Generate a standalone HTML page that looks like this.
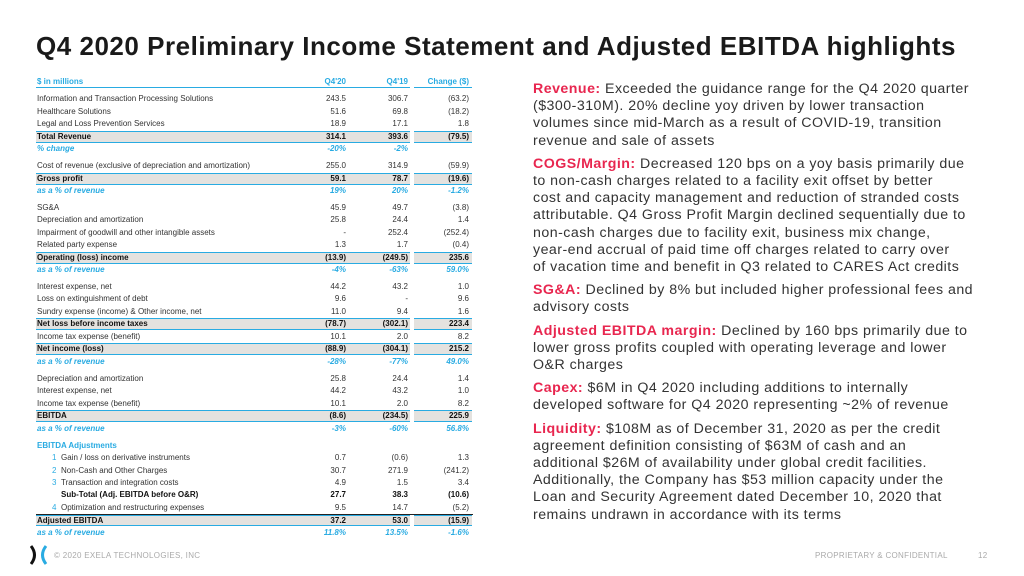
<!DOCTYPE html>
<html><head><meta charset="utf-8"><style>
*{margin:0;padding:0;box-sizing:border-box}
body{width:1024px;height:576px;background:#fff;position:relative;overflow:hidden;font-family:"Liberation Sans",sans-serif;color:#222}
h1{position:absolute;left:36px;top:31px;font-size:26px;font-weight:bold;color:#1a1a1a;letter-spacing:0.52px;white-space:nowrap}
.r{position:absolute;left:36px;width:437px;height:12.4px;font-size:8px;line-height:12.4px;color:#333}
.r span{position:absolute;white-space:nowrap;z-index:2}
.l{left:1px}
.a{left:250px;width:60px;text-align:right}
.b{left:312px;width:60px;text-align:right}
.c{left:375px;width:58px;text-align:right}
.s::before{content:"";position:absolute;left:0;width:374px;top:0;bottom:0;background:#e4e2df;border-top:1.5px solid #29abe2;border-bottom:1.5px solid #29abe2;z-index:1}
.s::after{content:"";position:absolute;left:378px;width:58px;top:0;bottom:0;background:#e4e2df;border-top:1.5px solid #29abe2;border-bottom:1.5px solid #29abe2;z-index:1}
.s{font-weight:bold;color:#111}
.p{color:#29abe2;font-style:italic;font-weight:bold}
.h{color:#29abe2;font-weight:bold}
.h::before{content:"";position:absolute;left:0;width:374px;bottom:0;border-bottom:1.5px solid #29abe2}
.h::after{content:"";position:absolute;left:378px;width:58px;bottom:0;border-bottom:1.5px solid #29abe2}
.n{color:#29abe2;left:16px!important}
.txt{position:absolute;left:533px;top:81px;font-size:14.2px;line-height:17.2px;color:#333;white-space:nowrap;letter-spacing:0.47px}
.txt p{margin-bottom:6px}
.txt b{color:#e8264f}
.foot{position:absolute;top:551px;font-size:8px;color:#aaa;letter-spacing:0.3px}
</style></head><body>
<h1>Q4 2020 Preliminary Income Statement and Adjusted EBITDA highlights</h1>

<div class="r h" style="top:76px"><span class="l">$ in millions</span><span class="a">Q4'20</span><span class="b">Q4'19</span><span class="c">Change ($)</span></div>
<div class="r" style="top:93px"><span class="l">Information and Transaction Processing Solutions</span><span class="a">243.5</span><span class="b">306.7</span><span class="c">(63.2)</span></div>
<div class="r" style="top:105.5px"><span class="l">Healthcare Solutions</span><span class="a">51.6</span><span class="b">69.8</span><span class="c">(18.2)</span></div>
<div class="r" style="top:118px"><span class="l">Legal and Loss Prevention Services</span><span class="a">18.9</span><span class="b">17.1</span><span class="c">1.8</span></div>
<div class="r s" style="top:130.5px"><span class="l">Total Revenue</span><span class="a">314.1</span><span class="b">393.6</span><span class="c">(79.5)</span></div>
<div class="r p" style="top:143px"><span class="l">% change</span><span class="a">-20%</span><span class="b">-2%</span></div>
<div class="r" style="top:160px"><span class="l">Cost of revenue (exclusive of depreciation and amortization)</span><span class="a">255.0</span><span class="b">314.9</span><span class="c">(59.9)</span></div>
<div class="r s" style="top:172.5px"><span class="l">Gross profit</span><span class="a">59.1</span><span class="b">78.7</span><span class="c">(19.6)</span></div>
<div class="r p" style="top:185px"><span class="l">as a % of revenue</span><span class="a">19%</span><span class="b">20%</span><span class="c">-1.2%</span></div>
<div class="r" style="top:202px"><span class="l">SG&amp;A</span><span class="a">45.9</span><span class="b">49.7</span><span class="c">(3.8)</span></div>
<div class="r" style="top:214px"><span class="l">Depreciation and amortization</span><span class="a">25.8</span><span class="b">24.4</span><span class="c">1.4</span></div>
<div class="r" style="top:226.5px"><span class="l">Impairment of goodwill and other intangible assets</span><span class="a">-</span><span class="b">252.4</span><span class="c">(252.4)</span></div>
<div class="r" style="top:239px"><span class="l">Related party expense</span><span class="a">1.3</span><span class="b">1.7</span><span class="c">(0.4)</span></div>
<div class="r s" style="top:251.5px"><span class="l">Operating (loss) income</span><span class="a">(13.9)</span><span class="b">(249.5)</span><span class="c">235.6</span></div>
<div class="r p" style="top:264px"><span class="l">as a % of revenue</span><span class="a">-4%</span><span class="b">-63%</span><span class="c">59.0%</span></div>
<div class="r" style="top:281px"><span class="l">Interest expense, net</span><span class="a">44.2</span><span class="b">43.2</span><span class="c">1.0</span></div>
<div class="r" style="top:293px"><span class="l">Loss on extinguishment of debt</span><span class="a">9.6</span><span class="b">-</span><span class="c">9.6</span></div>
<div class="r" style="top:305.5px"><span class="l">Sundry expense (income) &amp; Other income, net</span><span class="a">11.0</span><span class="b">9.4</span><span class="c">1.6</span></div>
<div class="r s" style="top:318px"><span class="l">Net loss before income taxes</span><span class="a">(78.7)</span><span class="b">(302.1)</span><span class="c">223.4</span></div>
<div class="r" style="top:330.5px"><span class="l">Income tax expense (benefit)</span><span class="a">10.1</span><span class="b">2.0</span><span class="c">8.2</span></div>
<div class="r s" style="top:343px"><span class="l">Net income (loss)</span><span class="a">(88.9)</span><span class="b">(304.1)</span><span class="c">215.2</span></div>
<div class="r p" style="top:355.5px"><span class="l">as a % of revenue</span><span class="a">-28%</span><span class="b">-77%</span><span class="c">49.0%</span></div>
<div class="r" style="top:373px"><span class="l">Depreciation and amortization</span><span class="a">25.8</span><span class="b">24.4</span><span class="c">1.4</span></div>
<div class="r" style="top:385px"><span class="l">Interest expense, net</span><span class="a">44.2</span><span class="b">43.2</span><span class="c">1.0</span></div>
<div class="r" style="top:397.5px"><span class="l">Income tax expense (benefit)</span><span class="a">10.1</span><span class="b">2.0</span><span class="c">8.2</span></div>
<div class="r s" style="top:410px"><span class="l">EBITDA</span><span class="a">(8.6)</span><span class="b">(234.5)</span><span class="c">225.9</span></div>
<div class="r p" style="top:422.5px"><span class="l">as a % of revenue</span><span class="a">-3%</span><span class="b">-60%</span><span class="c">56.8%</span></div>
<div class="r" style="top:440px;color:#29abe2;font-weight:bold"><span class="l">EBITDA Adjustments</span></div>
<div class="r" style="top:452px"><span class="n">1</span><span class="l" style="left:25px">Gain / loss on derivative instruments</span><span class="a">0.7</span><span class="b">(0.6)</span><span class="c">1.3</span></div>
<div class="r" style="top:464.5px"><span class="n">2</span><span class="l" style="left:25px">Non-Cash and Other Charges</span><span class="a">30.7</span><span class="b">271.9</span><span class="c">(241.2)</span></div>
<div class="r" style="top:477px"><span class="n">3</span><span class="l" style="left:25px">Transaction and integration costs</span><span class="a">4.9</span><span class="b">1.5</span><span class="c">3.4</span></div>
<div class="r" style="top:489px;font-weight:bold;color:#111"><span class="l" style="left:25px">Sub-Total (Adj. EBITDA before O&amp;R)</span><span class="a">27.7</span><span class="b">38.3</span><span class="c">(10.6)</span></div>
<div class="r" style="top:501.5px"><span class="n">4</span><span class="l" style="left:25px">Optimization and restructuring expenses</span><span class="a">9.5</span><span class="b">14.7</span><span class="c">(5.2)</span></div>
<div class="r s" style="top:514px;border-top:1.5px solid #222"><span class="l">Adjusted EBITDA</span><span class="a">37.2</span><span class="b">53.0</span><span class="c">(15.9)</span></div>
<div class="r p" style="top:527px"><span class="l">as a % of revenue</span><span class="a">11.8%</span><span class="b">13.5%</span><span class="c">-1.6%</span></div>

<div class="txt">
<p><b>Revenue:</b> Exceeded the guidance range for the Q4 2020 quarter<br>($300-310M). 20% decline yoy driven by lower transaction<br>volumes since mid-March as a result of COVID-19, transition<br>revenue and sale of assets</p>
<p><b>COGS/Margin:</b> Decreased 120 bps on a yoy basis primarily due<br>to non-cash charges related to a facility exit offset by better<br>cost and capacity management and reduction of stranded costs<br>attributable. Q4 Gross Profit Margin declined sequentially due to<br>non-cash charges due to facility exit, business mix change,<br>year-end accrual of paid time off charges related to carry over<br>of vacation time and benefit in Q3 related to CARES Act credits</p>
<p><b>SG&amp;A:</b> Declined by 8% but included higher professional fees and<br>advisory costs</p>
<p><b>Adjusted EBITDA margin:</b> Declined by 160 bps primarily due to<br>lower gross profits coupled with operating leverage and lower<br>O&amp;R charges</p>
<p><b>Capex:</b> $6M in Q4 2020 including additions to internally<br>developed software for Q4 2020 representing ~2% of revenue</p>
<p><b>Liquidity:</b> $108M as of December 31, 2020 as per the credit<br>agreement definition consisting of $63M of cash and an<br>additional $26M of availability under global credit facilities.<br>Additionally, the Company has $53 million capacity under the<br>Loan and Security Agreement dated December 10, 2020 that<br>remains undrawn in accordance with its terms</p>
</div>

<svg style="position:absolute;left:30px;top:545px" width="18" height="20" viewBox="0 0 18 20">
<path d="M1 1 Q8 10 1 19" stroke="#111" stroke-width="3" fill="none"/>
<path d="M16 1 Q9 10 16 19" stroke="#29abe2" stroke-width="3" fill="none"/>
</svg>
<div class="foot" style="left:54px">© 2020 EXELA TECHNOLOGIES, INC</div>
<div class="foot" style="left:815px">PROPRIETARY &amp; CONFIDENTIAL</div>
<div class="foot" style="left:978px">12</div>
</body></html>
